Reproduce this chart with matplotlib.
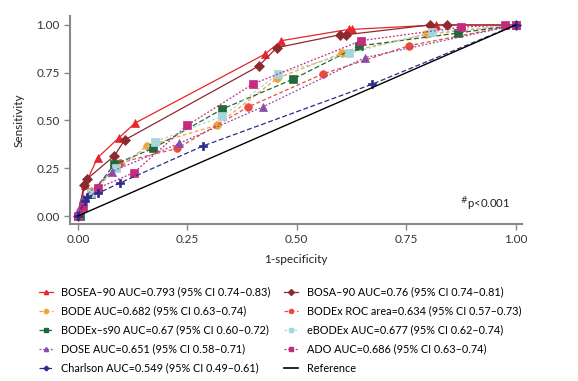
import matplotlib
matplotlib.use("Agg")
import matplotlib.pyplot as plt
from matplotlib.lines import Line2D

plt.rcParams["font.family"] = ["Lato", "DejaVu Sans"]

# ROC points (1-specificity, sensitivity)
bosea_x = [0.0, 0.016, 0.045, 0.094, 0.131, 0.427, 0.465, 0.619, 0.627, 0.817, 1.0]
bosea_y = [0.0, 0.160, 0.305, 0.410, 0.487, 0.847, 0.918, 0.977, 0.977, 1.0, 1.0]

bosa_x = [0.0, 0.014, 0.021, 0.083, 0.107, 0.413, 0.454, 0.599, 0.613, 0.803, 0.843, 1.0]
bosa_y = [0.0, 0.162, 0.194, 0.314, 0.398, 0.785, 0.881, 0.949, 0.949, 1.0, 1.0, 1.0]

bode_x = [0.0, 0.030, 0.157, 0.317, 0.455, 0.603, 0.795, 1.0]
bode_y = [0.0, 0.130, 0.366, 0.475, 0.721, 0.852, 0.951, 1.0]

bodex_x = [0.0, 0.030, 0.096, 0.227, 0.389, 0.559, 0.757, 1.0]
bodex_y = [0.0, 0.120, 0.279, 0.354, 0.571, 0.743, 0.892, 1.0]

bodexs90_x = [0.004, 0.031, 0.083, 0.172, 0.330, 0.492, 0.642, 0.869, 1.0]
bodexs90_y = [0.0, 0.114, 0.270, 0.354, 0.560, 0.717, 0.890, 0.958, 1.0]

ebodex_x = [0.0, 0.030, 0.088, 0.177, 0.330, 0.457, 0.619, 0.809, 1.0]
ebodex_y = [0.0, 0.120, 0.250, 0.389, 0.522, 0.743, 0.852, 0.962, 1.0]

dose_x = [0.0, 0.002, 0.012, 0.077, 0.231, 0.423, 0.655, 1.0]
dose_y = [0.0, 0.035, 0.093, 0.232, 0.380, 0.572, 0.829, 1.0]

ado_x = [0.0, 0.011, 0.045, 0.128, 0.250, 0.399, 0.647, 0.874, 0.975, 1.0]
ado_y = [0.0, 0.047, 0.145, 0.227, 0.475, 0.690, 0.918, 0.988, 1.0, 1.0]

charlson_x = [0.0, 0.016, 0.020, 0.046, 0.097, 0.285, 0.671, 1.0]
charlson_y = [0.0, 0.080, 0.100, 0.119, 0.174, 0.366, 0.689, 1.0]

labels = [
    "BOSEA\u201390 AUC=0.793 (95% CI 0.74\u20130.83)",
    "BOSA\u201390 AUC=0.76 (95% CI 0.74\u20130.81)",
    "BODE AUC=0.682 (95% CI 0.63\u20130.74)",
    "BODEx ROC area=0.634 (95% CI 0.57\u20130.73)",
    "BODEx\u2013s90 AUC=0.67 (95% CI 0.60\u20130.72)",
    "eBODEx AUC=0.677 (95% CI 0.62\u20130.74)",
    "DOSE AUC=0.651 (95% CI 0.58\u20130.71)",
    "ADO AUC=0.686 (95% CI 0.63\u20130.74)",
    "Charlson AUC=0.549 (95% CI 0.49\u20130.61)",
    "Reference",
]

series = [
    (bosea_x, bosea_y, "#e8242c", "^", "-", 5.5),
    (bosa_x, bosa_y, "#8c2a2e", "D", "-", 5.0),
    (bode_x, bode_y, "#f4a13a", "o", (0, (3, 2)), 5.5),
    (bodex_x, bodex_y, "#ea4a3c", "o", (0, (3, 2)), 5.5),
    (bodexs90_x, bodexs90_y, "#1f6a38", "s", (0, (4, 2)), 5.5),
    (ebodex_x, ebodex_y, "#a6d6de", "s", (0, (2, 2)), 5.5),
    (dose_x, dose_y, "#8c4aa6", "^", (0, (1.5, 1.5)), 5.5),
    (ado_x, ado_y, "#c42a7e", "s", (0, (1.5, 1.5)), 5.5),
    (charlson_x, charlson_y, "#2c2c8a", "P", (0, (4, 2)), 6),
]

fig = plt.figure(figsize=(5.78, 3.81), dpi=100)
ax = fig.add_axes([0.121, 0.412, 0.782, 0.546])

handles = []
for (x, y, color, marker, ls, ms), label in zip(series, labels):
    ax.plot(x, y, color=color, marker=marker, linestyle=ls, linewidth=0.9,
            markersize=ms, markeredgewidth=0.5, markeredgecolor=color)
    handles.append(Line2D([], [], color=color, marker=marker, linestyle=ls,
                          linewidth=0.9, markersize=3, label=label))

ax.plot([0, 1], [0, 1], color="black", linewidth=1.0)
handles.append(Line2D([], [], color="black", linewidth=1.2, label=labels[-1]))

ax.set_xlim(-0.018, 1.014)
ax.set_ylim(-0.042, 1.047)
ticks = [0, 0.25, 0.5, 0.75, 1.0]
ax.set_xticks(ticks)
ax.set_yticks(ticks)
ax.set_xticklabels(["0.00", "0.25", "0.50", "0.75", "1.00"])
ax.set_yticklabels(["0.00", "0.25", "0.50", "0.75", "1.00"])
ax.tick_params(colors="#333333", labelsize=8.5, length=4, width=1.0)
ax.tick_params(axis="both", color="#888888")
for side in ["top", "right"]:
    ax.spines[side].set_visible(False)
for side in ["left", "bottom"]:
    ax.spines[side].set_color("#888888")
    ax.spines[side].set_linewidth(1.5)

ax.set_xlabel("1-specificity", fontsize=8.5, color="#222222", labelpad=6)
ax.set_ylabel("Sensitivity", fontsize=8.5, color="#222222", labelpad=8)

ax.text(0.872, 0.045, r"$^{\#}$p<0.001", fontsize=8.2, color="#222222")

# legend order: column-wise fill
order = [0, 2, 4, 6, 8, 1, 3, 5, 7, 9]
fig.legend([handles[i] for i in order], [labels[i] for i in order],
           ncol=2, loc="upper left", bbox_to_anchor=(0.067, 0.248),
           frameon=False, fontsize=7.8, handlelength=1.3, handletextpad=0.75,
           columnspacing=1.3, labelspacing=0.74, borderaxespad=0, borderpad=0)

fig.savefig("out.png", dpi=100)
